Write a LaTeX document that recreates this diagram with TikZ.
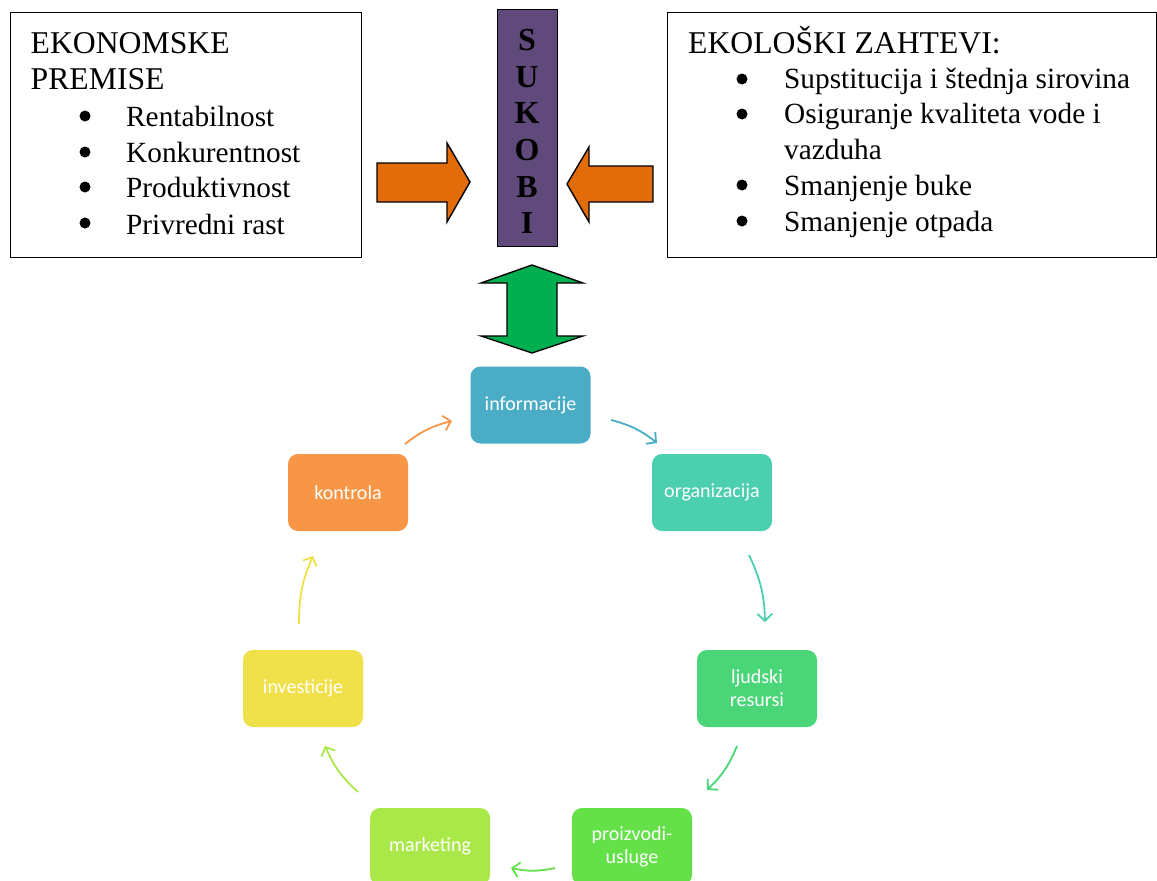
\documentclass[tikz,border=0pt]{standalone}
\usepackage{fontspec}
\setmainfont{Liberation Serif}
\newfontfamily\carl{Carlito}
\usetikzlibrary{arrows.meta}
\definecolor{cInfo}{RGB}{75,172,198}
\definecolor{cOrg}{RGB}{75,207,175}
\definecolor{cLj}{RGB}{74,214,120}
\definecolor{cPro}{RGB}{100,224,72}
\definecolor{cMar}{RGB}{170,232,74}
\definecolor{cInv}{RGB}{240,224,74}
\definecolor{cKon}{RGB}{247,150,70}
\definecolor{purp}{RGB}{96,74,123}
\definecolor{orng}{RGB}{227,108,10}
\definecolor{grn}{RGB}{0,176,80}
\begin{document}
\begin{tikzpicture}[x=1pt,y=1pt,
  txt/.style={anchor=base west, inner sep=0pt, font=\fontsize{29.3}{35}\selectfont},
  head/.style={anchor=base west, inner sep=0pt, font=\fontsize{31.7}{36}\selectfont},
  bul/.style={circle, fill=black, inner sep=0pt, minimum size=11pt},
  frame/.style={draw=black, line width=1.4pt, anchor=north west, inner sep=0pt},
  letter/.style={anchor=base, inner sep=0pt, font=\fontsize{32}{32}\selectfont\bfseries},
  block/.style={draw=black, line width=1.4pt, line join=miter},
  cyc/.style={rounded corners=10pt, minimum width=120pt, minimum height=77pt, text=white, align=center, font=\carl\fontsize{20}{23}\selectfont, inner sep=2pt},
  cyca/.style={line width=1.8pt, -{Straight Barb[length=7pt,width=15pt]}, bend left=12}
]
\useasboundingbox (0,0) rectangle (1157,-881);

% left box
\node[frame, minimum width=351pt, minimum height=245pt] (eko) at (10,-12) {};
\node[head] (e1) at (30.5,-53) {EKONOMSKE};
\node[head] (e2) at (30.5,-89) {PREMISE};
\node[bul] (b1) at (85,-116) {};
\node[txt] (t1) at (126,-126) {Rentabilnost};
\node[bul] (b2) at (85,-152) {};
\node[txt] (t2) at (126,-162) {Konkurentnost};
\node[bul] (b3) at (85,-187) {};
\node[txt] (t3) at (126,-197) {Produktivnost};
\node[bul] (b4) at (85,-223) {};
\node[txt] (t4) at (126,-234) {Privredni rast};

% right box
\node[frame, minimum width=489pt, minimum height=245pt] (ekol) at (667,-12) {};
\node[head] (z0) at (688,-53) {EKOLOŠKI ZAHTEVI:};
\node[bul] (c1) at (742,-79) {};
\node[txt] (z1) at (784,-88) {Supstitucija i štednja sirovina};
\node[bul] (c2) at (742,-114) {};
\node[txt] (z2) at (784,-123) {Osiguranje kvaliteta vode i};
\node[txt] (z3) at (784,-159) {vazduha};
\node[bul] (c3) at (742,-185) {};
\node[txt] (z4) at (784,-195) {Smanjenje buke};
\node[bul] (c4) at (742,-221) {};
\node[txt] (z5) at (784,-231) {Smanjenje otpada};

% SUKOBI bar
\node[draw=black, line width=1.4pt, fill=purp, minimum width=60pt, minimum height=237pt, anchor=north west, inner sep=0pt] (suk) at (497,-9) {};
\node[letter] (s1) at (527,-50) {S};
\node[letter] (s2) at (527,-87) {U};
\node[letter] (s3) at (527,-123) {K};
\node[letter] (s4) at (527,-160) {O};
\node[letter] (s5) at (527,-197) {B};
\node[letter] (s6) at (527,-233) {I};

% orange block arrows
\draw[block, fill=orng] (377,-163) -- (447,-163) -- (447,-143) -- (470,-182) -- (447,-222) -- (447,-202) -- (377,-202) -- cycle;
\draw[block, fill=orng] (653,-166) -- (589,-166) -- (589,-147) -- (567,-184) -- (589,-222) -- (589,-202) -- (653,-202) -- cycle;

% green double arrow
\draw[block, fill=grn] (532,-265) -- (583,-283) -- (557,-283) -- (557,-336) -- (583,-336) -- (532,-353) -- (481,-336) -- (507,-336) -- (507,-283) -- (481,-283) -- cycle;

% cycle
\node[cyc, fill=cInfo] (info) at (530.5,-405) {informacije};
\node[cyc, fill=cOrg] (org) at (712,-492.5) {organizacija};
\node[cyc, fill=cLj] (lj) at (757,-688.5) {ljudski\\resursi};
\node[cyc, fill=cPro] (pro) at (632,-846.5) {proizvodi-\\usluge};
\node[cyc, fill=cMar] (mar) at (430,-846.5) {marketing};
\node[cyc, fill=cInv] (inv) at (303,-688.5) {investicije};
\node[cyc, fill=cKon] (kon) at (348,-492.5) {kontrola};

\coordinate (k1) at (405,-444);
\coordinate (k2) at (452,-421);
\coordinate (i1) at (611,-420);
\coordinate (i2) at (657,-443);
\coordinate (o1) at (749,-555);
\coordinate (o2) at (765,-622);
\coordinate (l1) at (737,-746);
\coordinate (l2) at (707,-790);
\coordinate (p1) at (555,-868);
\coordinate (p2) at (511,-868);
\coordinate (m1) at (358,-792);
\coordinate (m2) at (325,-746);
\coordinate (v1) at (299,-624);
\coordinate (v2) at (313,-556);

\draw[cyca, draw=cKon] (k1) to (k2);
\draw[cyca, draw=cInfo] (i1) to (i2);
\draw[cyca, draw=cOrg] (o1) to (o2);
\draw[cyca, draw=cLj] (l1) to (l2);
\draw[cyca, draw=cPro] (p1) to (p2);
\draw[cyca, draw=cMar] (m1) to (m2);
\draw[cyca, draw=cInv] (v1) to (v2);
\end{tikzpicture}
\end{document}
